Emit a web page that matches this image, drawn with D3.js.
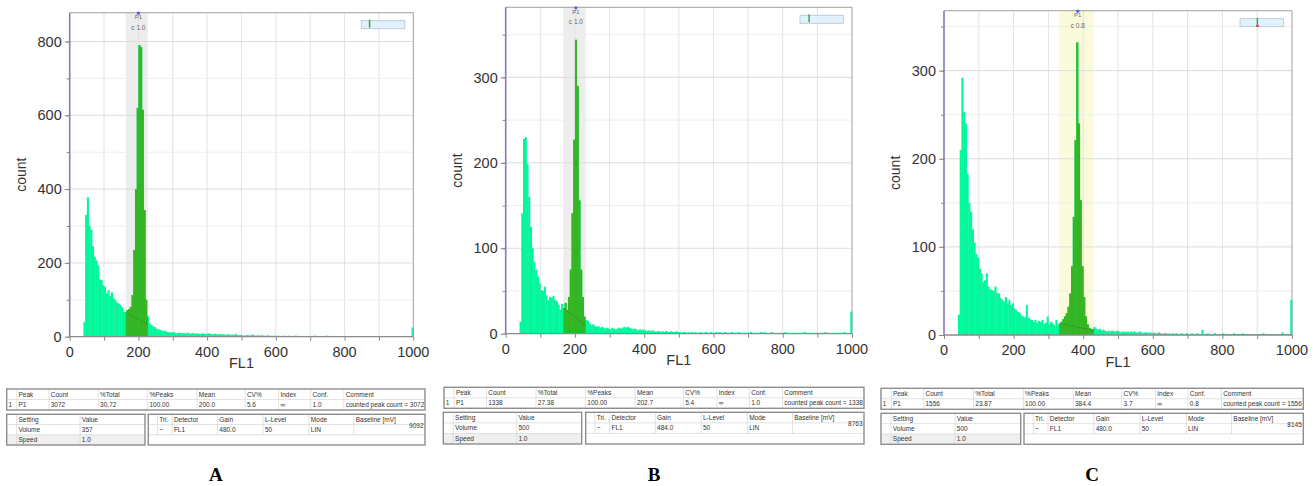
<!DOCTYPE html>
<html>
<head>
<meta charset="utf-8">
<script src="https://cdn.jsdelivr.net/npm/d3@7"></script>
<style>
  body { margin: 0; background: #fff; }
  svg { display: block; font-family: "Liberation Sans", Arial, sans-serif; }
</style>
</head>
<body>
<svg id="chart" width="1315" height="486"></svg>
<script>
// FL1 histograms, 5-channel bins starting at FL1 = 40
const binStart = 40;
const binWidth = 5;

const countsA = [
  40, 330, 378, 300, 290, 245, 217, 207, 193, 155,
  154, 140, 135, 117, 126, 110, 120, 104, 99, 92,
  90, 86, 80, 68, 66, 72, 75, 81, 113, 235,
  400, 620, 790, 785, 615, 343, 100, 55, 36, 32,
  28, 26, 22, 20, 19, 17, 15, 16, 13, 12,
  12, 11, 13, 10, 9, 11, 10, 9, 10, 8,
  11, 9, 8, 10, 9, 8, 9, 7, 8, 9,
  8, 7, 9, 8, 7, 6, 8, 7, 6, 7,
  6, 7, 5, 6, 7, 5, 6, 5, 8, 5,
  4, 5, 4, 3, 4, 5, 3, 4, 6, 3,
  3, 4, 3, 4, 3, 2, 3, 4, 2, 3,
  2, 3, 2, 3, 2, 2, 3, 2, 2, 3,
  2, 1, 2, 3, 2, 2, 1, 2, 2, 1,
  2, 2, 1, 2, 3, 2, 1, 2, 2, 1,
  2, 3, 1, 2, 2, 1, 2, 2, 1, 2,
  1, 2, 2, 1, 2, 2, 1, 2, 1, 1,
  2, 1, 2, 1, 1, 2, 1, 2, 1, 1,
  1, 2, 1, 1, 2, 1, 1, 1, 2, 1,
  1, 1, 2, 1, 1, 1, 2, 1, 1, 1,
  1, 25
];

const countsB = [
  14, 141, 228, 230, 199, 160, 125, 100, 84, 75,
  67, 59, 51, 50, 55, 45, 39, 43, 42, 44,
  40, 38, 34, 28, 35, 30, 36, 28, 43, 75,
  141, 227, 344, 290, 156, 75, 43, 20, 16, 15,
  12, 10, 11, 9, 8, 9, 7, 8, 7, 6,
  7, 6, 5, 7, 6, 5, 6, 7, 6, 7,
  8, 7, 8, 7, 6, 5, 6, 5, 4, 5,
  4, 5, 4, 3, 4, 3, 4, 3, 2, 3,
  3, 2, 3, 2, 3, 2, 2, 3, 2, 2,
  3, 2, 2, 1, 2, 2, 1, 2, 1, 2,
  1, 2, 1, 1, 2, 1, 1, 2, 1, 1,
  2, 1, 1, 2, 1, 2, 1, 1, 2, 1,
  1, 1, 2, 1, 1, 1, 2, 1, 1, 1,
  1, 1, 1, 2, 1, 1, 1, 1, 1, 2,
  1, 2, 1, 1, 1, 2, 1, 1, 1, 1,
  1, 1, 1, 2, 1, 1, 1, 1, 1, 1,
  1, 1, 1, 1, 2, 1, 1, 1, 1, 1,
  1, 1, 1, 1, 1, 1, 2, 1, 1, 1,
  1, 1, 1, 1, 1, 1, 1, 2, 1, 1,
  1, 26
];

const countsC = [
  23, 210, 292, 253, 240, 183, 150, 140, 120, 105,
  92, 88, 75, 70, 60, 62, 70, 55, 52, 51,
  50, 55, 48, 47, 42, 40, 38, 43, 36, 40,
  34, 36, 30, 28, 26, 25, 22, 21, 20, 34,
  20, 18, 17, 15, 17, 14, 16, 15, 17, 13,
  14, 21, 12, 15, 13, 11, 17, 12, 13, 15,
  18, 21, 25, 32, 47, 78, 134, 221, 332, 240,
  153, 78, 43, 21, 12, 8, 7, 6, 9, 7,
  6, 7, 5, 6, 5, 4, 5, 4, 5, 4,
  4, 5, 4, 3, 4, 4, 3, 4, 3, 4,
  3, 4, 3, 3, 4, 3, 2, 3, 3, 2,
  3, 2, 3, 2, 2, 3, 2, 1, 2, 2,
  1, 2, 1, 2, 1, 2, 1, 1, 2, 1,
  1, 2, 1, 1, 2, 1, 1, 2, 1, 1,
  6, 1, 1, 2, 1, 1, 1, 2, 1, 1,
  1, 1, 2, 1, 1, 1, 1, 1, 2, 1,
  1, 1, 1, 2, 1, 1, 1, 1, 1, 1,
  1, 1, 1, 1, 1, 2, 1, 1, 1, 1,
  1, 1, 1, 1, 1, 1, 3, 1, 1, 1,
  1, 40
];

const panelLetters = ['A', 'B', 'C'];
const gateRanges = [[163, 227], [166.5, 231], [331, 431]];
const peakMeans = [200.0, 202.7, 384.4];
const peakConf = ['1.0', '1.0', '0.8'];
const yMajorStep = [200, 100, 100];
const yMinorStep = [100, 50, 50];
const xTicks = [0, 200, 400, 600, 800, 1000];
const overviewMarks = [0.19, 0.21, 0.40];

// table texts
const peakHeader = ['', 'Peak', 'Count', '%Total', '%Peaks', 'Mean', 'CV%', 'Index', 'Conf.', 'Comment'];
const peakRows = [
  ['1', 'P1', '3072', '30.72', '100.00', '200.0', '5.6', '\u221e', '1.0', 'counted peak count = 3072'],
  ['1', 'P1', '1338', '27.38', '100.00', '202.7', '5.4', '\u221e', '1.0', 'counted peak count = 1338'],
  ['1', 'P1', '1556', '23.87', '100.00', '384.4', '3.7', '\u221e', '0.8', 'counted peak count = 1556']
];
const settingHeader = ['', 'Setting', 'Value'];
const volumes = ['357', '500', '500'];
const speeds = ['1.0', '1.0', '1.0'];
const detectorHeader = ['', 'Tri.', 'Detector', 'Gain', 'L-Level', 'Mode', 'Baseline [mV]'];
const gains = ['480.0', '484.0', '480.0'];
const baselines = ['9092', '8763', '8145'];

// layout of each panel (pixels)
const layout = [
  { x0: 69.7, x1: 413.3, y0: 12.7, y1: 336.7, yMax: 878, gateFill: '#ededed',
    t1: [6.7, 425, 389, 410], t2: [6.7, 145, 414.3, 445], t3: [148.3, 425, 414.3, 445] },
  { x0: 505.7, x1: 852, y0: 7.3, y1: 333.7, yMax: 382, gateFill: '#ededed',
    t1: [444, 864, 387.3, 408.3], t2: [443.3, 581.7, 412.3, 444], t3: [585.7, 864, 412.3, 444] },
  { x0: 944, x1: 1292, y0: 10.7, y1: 335, yMax: 368, gateFill: '#fbfbdc',
    t1: [881, 1303.3, 388.3, 409.3], t2: [881, 1020.7, 413.3, 444.3], t3: [1024, 1303.3, 413.3, 444.3] }
];

const peakCols = [0, .024, .101, .219, .337, .455, .570, .650, .727, .806];
const settingCols = [0, .072, .53];
const detectorCols = [0, .033, .086, .25, .415, .581, .743];

const lightGreen = '#00f79b';
const darkGreen = '#36b422';

const svg = d3.select('#chart');
svg.append('rect').attr('width', 1315).attr('height', 486).attr('fill', '#fff');

const allCounts = [countsA, countsB, countsC];

allCounts.forEach((counts, i) => drawPanel(i, counts));

function drawPanel(i, counts) {
  const p = layout[i];
  const gate = gateRanges[i];
  const g = svg.append('g');
  const x = d3.scaleLinear().domain([0, 1000]).range([p.x0, p.x1]);
  const y = d3.scaleLinear().domain([0, p.yMax]).range([p.y1, p.y0]);

  // gate band
  g.append('rect')
    .attr('x', x(gate[0])).attr('width', x(gate[1]) - x(gate[0]))
    .attr('y', p.y0).attr('height', p.y1 - p.y0)
    .attr('fill', p.gateFill);

  // grid
  const gridX = d3.range(100, 1000, 100);
  g.append('g').selectAll('line').data(gridX).join('line')
    .attr('x1', d => x(d)).attr('x2', d => x(d))
    .attr('y1', p.y0).attr('y2', p.y1)
    .attr('stroke', '#e2e2e2').attr('stroke-width', 1);
  const gridY = d3.range(yMinorStep[i], p.yMax, yMinorStep[i]);
  g.append('g').selectAll('line').data(gridY).join('line')
    .attr('x1', p.x0).attr('x2', p.x1)
    .attr('y1', d => y(d)).attr('y2', d => y(d))
    .attr('stroke', d => d % yMajorStep[i] === 0 ? '#dcdcdc' : '#ededed')
    .attr('stroke-width', 1);

  // bars
  const bins = counts.map((c, k) => ({ x: binStart + k * binWidth, c }));
  const bw = x(binWidth) - x(0);
  g.append('g').selectAll('rect').data(bins).join('rect')
    .attr('x', d => x(d.x)).attr('width', bw + 0.35)
    .attr('y', d => y(d.c)).attr('height', d => y(0) - y(d.c))
    .attr('fill', lightGreen);

  // gated bars in dark green
  const clipId = 'gate-clip-' + i;
  g.append('clipPath').attr('id', clipId).append('rect')
    .attr('x', x(gate[0])).attr('width', x(gate[1]) - x(gate[0]))
    .attr('y', p.y0).attr('height', p.y1 - p.y0);
  g.append('g').attr('clip-path', `url(#${clipId})`)
    .selectAll('rect').data(bins.filter(d => d.x + binWidth > gate[0] && d.x < gate[1])).join('rect')
    .attr('x', d => x(d.x)).attr('width', bw + 0.35)
    .attr('y', d => y(d.c)).attr('height', d => y(0) - y(d.c))
    .attr('fill', darkGreen);

  // peak baseline across the gate
  const edgeVal = v => counts[Math.floor((v - binStart) / binWidth)];
  g.append('line')
    .attr('x1', x(gate[0])).attr('y1', y(edgeVal(gate[0])))
    .attr('x2', x(gate[1])).attr('y2', y(edgeVal(gate[1]) * 0.6))
    .attr('stroke', '#3d6b3d').attr('stroke-width', 0.8).attr('opacity', 0.5);

  // frame: top and right in gray
  g.append('line').attr('x1', p.x0).attr('x2', p.x1).attr('y1', p.y0).attr('y2', p.y0)
    .attr('stroke', '#a0a0a0').attr('stroke-width', 1);
  g.append('line').attr('x1', p.x1).attr('x2', p.x1).attr('y1', p.y0).attr('y2', p.y1)
    .attr('stroke', '#a0a0a0').attr('stroke-width', 1);

  // x axis
  const xAxis = d3.axisBottom(x).tickValues(d3.range(0, 1001, 100)).tickSize(4).tickFormat('');
  const xg = g.append('g').attr('transform', `translate(0,${p.y1})`).call(xAxis);
  xg.select('.domain').remove();
  xg.selectAll('line').attr('stroke', '#888');
  g.append('line').attr('x1', p.x0).attr('x2', p.x1).attr('y1', p.y1).attr('y2', p.y1)
    .attr('stroke', '#8a8a8a').attr('stroke-width', 1.3);
  g.append('g').selectAll('text').data(xTicks).join('text')
    .attr('x', d => x(d)).attr('y', p.y1 + 20)
    .attr('text-anchor', 'middle').attr('font-size', 14.5).attr('fill', '#333')
    .text(d => d);

  // y axis: minor then major ticks
  const yMinor = d3.axisLeft(y).tickValues(d3.range(0, p.yMax, yMinorStep[i])).tickSize(3).tickFormat('');
  const ym = g.append('g').attr('transform', `translate(${p.x0},0)`).call(yMinor);
  ym.select('.domain').remove();
  ym.selectAll('line').attr('stroke', '#888');
  const yMajor = d3.axisLeft(y).tickValues(d3.range(0, p.yMax, yMajorStep[i])).tickSize(5).tickPadding(3);
  const yg = g.append('g').attr('transform', `translate(${p.x0},0)`).call(yMajor);
  yg.select('.domain').remove();
  yg.selectAll('line').attr('stroke', '#888');
  yg.selectAll('text').attr('font-size', 14.5).attr('fill', '#333')
    .attr('font-family', '"Liberation Sans", Arial, sans-serif');
  g.append('line').attr('x1', p.x0).attr('x2', p.x0).attr('y1', p.y0).attr('y2', p.y1)
    .attr('stroke', '#8c78b4').attr('stroke-width', 1.6);

  // axis titles
  g.append('text').attr('x', (p.x0 + p.x1) / 2).attr('y', p.y1 + 31.5)
    .attr('text-anchor', 'middle').attr('font-size', 14.5).attr('fill', '#333').text('FL1');
  g.append('text')
    .attr('transform', `translate(${p.x0 - 44},${(p.y0 + p.y1) / 2}) rotate(-90)`)
    .attr('text-anchor', 'middle').attr('font-size', 14).attr('fill', '#333').text('count');

  // gate label
  const mx = x(peakMeans[i]);
  g.append('circle').attr('cx', mx).attr('cy', p.y0 + 0.5).attr('r', 1.6).attr('fill', '#5a5af0');
  g.append('text').attr('x', mx).attr('y', p.y0 + 6.5).attr('text-anchor', 'middle')
    .attr('font-size', 6).attr('fill', '#666').text('P1');
  g.append('text').attr('x', mx).attr('y', p.y0 + 17).attr('text-anchor', 'middle')
    .attr('font-size', 6.5).attr('fill', '#666').text('c ' + peakConf[i]);

  // overview box top right
  const bx0 = p.x1 - 52, bx1 = p.x1 - 8.5, by0 = p.y0 + 8, by1 = p.y0 + 16;
  g.append('rect').attr('x', bx0).attr('y', by0).attr('width', bx1 - bx0).attr('height', by1 - by0)
    .attr('fill', '#e2f2fc').attr('stroke', '#b5c4cf').attr('stroke-width', 0.8);
  const mxBox = bx0 + overviewMarks[i] * (bx1 - bx0);
  g.append('line').attr('x1', mxBox).attr('x2', mxBox).attr('y1', by0 - 1).attr('y2', by1 - 1)
    .attr('stroke', '#2fa52f').attr('stroke-width', 1.4);
  if (i === 2) {
    g.append('rect').attr('x', mxBox - 1.5).attr('y', by1 - 1.5).attr('width', 3).attr('height', 1.5)
      .attr('fill', '#e03030');
  }

  // tables
  const pr = peakRows[i];
  drawTable(p.t1, peakCols, [peakHeader, pr], {});
  drawTable(p.t2, settingCols, [settingHeader, ['', 'Volume', volumes[i]], ['', 'Speed', speeds[i]]], { shade: [false, false, true] });
  drawTable(p.t3, detectorCols, [detectorHeader, ['', '~', 'FL1', gains[i], '50', 'LIN', ''], ['', '', '', '', '', '', '']], { blankLast: true });
  // baseline value sits right-aligned in its cell
  const [tl, tr, tt, tb] = p.t3;
  const rh = (tb - tt) / 3;
  svg.append('text').attr('x', tr - 1.5).attr('y', tt + rh + 3.5)
    .attr('text-anchor', 'end').attr('font-size', 6.5).attr('fill', '#333').text(baselines[i]);

  // panel letter
  const [l1, r1] = p.t1;
  svg.append('text').attr('x', (l1 + r1) / 2).attr('y', 481)
    .attr('text-anchor', 'middle').attr('font-family', '"Liberation Serif", "Times New Roman", serif')
    .attr('font-weight', 'bold').attr('font-size', 19).attr('fill', '#000').text(panelLetters[i]);
}

function drawTable(box, cols, rows, opts) {
  const [xl, xr, yt, yb] = box;
  const w = xr - xl;
  const rh = (yb - yt) / rows.length;
  const tg = svg.append('g');
  rows.forEach((row, ri) => {
    if (opts.shade && opts.shade[ri]) {
      tg.append('rect').attr('x', xl).attr('y', yt + ri * rh).attr('width', w).attr('height', rh)
        .attr('fill', '#efefef');
    }
    row.forEach((cell, ci) => {
      tg.append('text').attr('x', xl + cols[ci] * w + 1.8).attr('y', yt + ri * rh + rh / 2 + 2.3)
        .attr('font-size', 6.5).attr('fill', '#333').text(cell);
    });
  });
  // inner cell lines
  const lastRow = opts.blankLast ? rows.length - 1 : rows.length;
  tg.append('g').selectAll('line').data(d3.range(1, rows.length)).join('line')
    .attr('x1', xl).attr('x2', xr)
    .attr('y1', r => yt + r * rh).attr('y2', r => yt + r * rh)
    .attr('stroke', '#d6d6d6').attr('stroke-width', 0.7);
  tg.append('g').selectAll('line').data(cols.slice(1)).join('line')
    .attr('x1', c => xl + c * w).attr('x2', c => xl + c * w)
    .attr('y1', yt).attr('y2', yt + lastRow * rh)
    .attr('stroke', '#d6d6d6').attr('stroke-width', 0.7);
  tg.append('rect').attr('x', xl).attr('y', yt).attr('width', w).attr('height', yb - yt)
    .attr('fill', 'none').attr('stroke', '#8e8e8e').attr('stroke-width', 1.4);
}
</script>
</body>
</html>
